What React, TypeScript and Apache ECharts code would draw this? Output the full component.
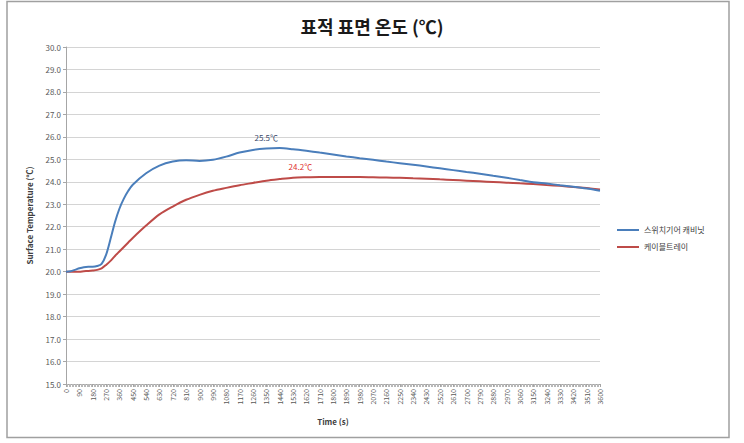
import React, { useEffect, useRef } from "react";
import * as echarts from "echarts";

const times = [0, 30, 60, 90, 120, 150, 180, 210, 240, 270, 300, 330, 360, 390, 420, 450, 540, 630, 720, 810, 900, 990, 1080, 1170, 1260, 1350, 1440, 1530, 1620, 1710, 1800, 1890, 1980, 2070, 2160, 2250, 2340, 2430, 2520, 2610, 2700, 2790, 2880, 2970, 3060, 3150, 3240, 3330, 3420, 3510, 3600];

const switchgear = [20.0, 20.02, 20.08, 20.15, 20.2, 20.22, 20.22, 20.25, 20.35, 20.75, 21.45, 22.2, 22.8, 23.25, 23.6, 23.87, 24.38, 24.72, 24.9, 24.96, 24.93, 24.98, 25.12, 25.3, 25.42, 25.48, 25.5, 25.45, 25.38, 25.3, 25.22, 25.13, 25.05, 24.98, 24.9, 24.83, 24.76, 24.68, 24.6, 24.52, 24.44, 24.36, 24.27, 24.18, 24.08, 23.98, 23.92, 23.85, 23.78, 23.7, 23.6];

const cableTray = [20.0, 20.0, 20.0, 20.0, 20.02, 20.03, 20.05, 20.08, 20.15, 20.3, 20.48, 20.7, 20.9, 21.1, 21.3, 21.5, 22.05, 22.55, 22.9, 23.2, 23.42, 23.6, 23.73, 23.85, 23.95, 24.05, 24.12, 24.18, 24.2, 24.21, 24.21, 24.21, 24.21, 24.2, 24.19, 24.18, 24.16, 24.14, 24.11, 24.08, 24.05, 24.02, 23.99, 23.96, 23.93, 23.9, 23.86, 23.82, 23.77, 23.72, 23.66];

const seriesNames = ["스위치기어 캐비닛", "케이블트레이"];
const annotationTimes = [1350, 1580];
const annotationTexts = ["25.5℃", "24.2℃"];

const FONT = "'Noto Sans CJK KR', 'Noto Sans', sans-serif";

export default function App() {
  const ref = useRef<HTMLDivElement>(null);
  useEffect(() => {
    if (!ref.current) return;
    const chart = echarts.init(ref.current, undefined, { renderer: "svg" });
    const pairs = (vals: number[]) => times.map((t, i) => [t, vals[i]]);
    const peakMark = (vals: number[], si: number, color: string) => {
      const t = annotationTimes[si];
      const max = Math.max(...vals);
      return {
        symbol: "circle",
        symbolSize: 0,
        silent: true,
        data: [
          {
            coord: [t, max],
            label: {
              show: true,
              position: "top",
              distance: 7,
              formatter: annotationTexts[si],
              color,
              fontSize: 8,
              fontFamily: FONT,
            },
          },
        ],
      };
    };
    chart.setOption({
      animation: false,
      textStyle: { fontFamily: FONT },
      title: {
        text: "표적 표면 온도 (℃)",
        left: "center",
        top: 12,
        textStyle: { fontSize: 18, fontWeight: "bold", color: "#1a1a1a", fontFamily: FONT },
      },
      graphic: [
        {
          type: "rect",
          shape: { x: 7, y: 1.5, width: 722, height: 436 },
          style: { fill: "none", stroke: "#a0a0a0", lineWidth: 1.5 },
          silent: true,
        },
      ],
      legend: {
        orient: "vertical",
        left: 612,
        top: 221,
        itemWidth: 22,
        itemHeight: 2,
        itemGap: 9,
        icon: "rect",
        textStyle: { fontSize: 8, color: "#404040", fontFamily: FONT },
        data: seriesNames,
      },
      grid: { left: 66, right: 144, top: 47, bottom: 59 },
      xAxis: {
        type: "value",
        min: 0,
        max: 3600,
        interval: 90,
        name: "Time (s)",
        nameLocation: "middle",
        nameGap: 33,
        nameTextStyle: { fontSize: 8, fontWeight: "bold", color: "#404040", fontFamily: FONT },
        axisLine: { show: true, lineStyle: { color: "#a6a6a6" } },
        axisTick: { show: true, length: 3, lineStyle: { color: "#a6a6a6" } },
        minorTick: { show: true, splitNumber: 9, length: 3, lineStyle: { color: "#b8b8b8" } },
        splitLine: { show: false },
        axisLabel: {
          rotate: 90,
          fontSize: 7,
          color: "#595959",
          margin: 5,
          fontFamily: FONT,
          formatter: (v: number) => String(v),
        },
      },
      yAxis: {
        type: "value",
        min: 15,
        max: 30,
        interval: 1,
        name: "Surface Temperature (℃)",
        nameLocation: "middle",
        nameGap: 33,
        nameRotate: 90,
        nameTextStyle: { fontSize: 8, fontWeight: "bold", color: "#404040", fontFamily: FONT },
        axisLine: { show: true, lineStyle: { color: "#a6a6a6" } },
        axisTick: { show: true, length: 3, lineStyle: { color: "#a6a6a6" } },
        splitLine: { show: true, lineStyle: { color: "#d4d4d4", width: 1 } },
        axisLabel: {
          fontSize: 8,
          color: "#595959",
          margin: 5,
          fontFamily: FONT,
          formatter: (v: number) => v.toFixed(1),
        },
      },
      series: [
        {
          name: seriesNames[0],
          type: "line",
          data: pairs(switchgear),
          showSymbol: false,
          symbol: "none",
          smooth: 0.3,
          lineStyle: { color: "#4a7ebb", width: 2 },
          itemStyle: { color: "#4a7ebb" },
          markPoint: peakMark(switchgear, 0, "#3b4a6b"),
          z: 3,
        },
        {
          name: seriesNames[1],
          type: "line",
          data: pairs(cableTray),
          showSymbol: false,
          symbol: "none",
          smooth: 0.3,
          lineStyle: { color: "#be4b48", width: 2 },
          itemStyle: { color: "#be4b48" },
          markPoint: peakMark(cableTray, 1, "#e03030"),
          z: 2,
        },
      ],
    });
    return () => chart.dispose();
  }, []);
  return (
    <div
      ref={ref}
      style={{ position: "fixed", left: 0, top: 0, width: 744, height: 443, background: "#fff" }}
    />
  );
}
